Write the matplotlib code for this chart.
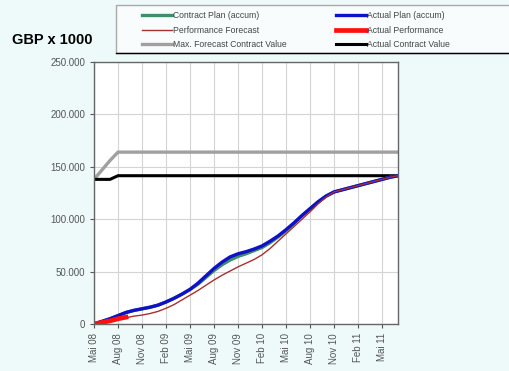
import matplotlib
matplotlib.use("Agg")
import matplotlib.pyplot as plt
from matplotlib.patches import Rectangle
from matplotlib.ticker import FuncFormatter

plt.rcParams['font.family'] = ['Liberation Sans', 'DejaVu Sans']

# monthly values, May 2008 .. Jul 2011
months = list(range(39))
tick_pos = list(range(0, 39, 3))
tick_labels = ["Mai 08", "Aug 08", "Nov 08", "Feb 09", "Mai 09", "Aug 09", "Nov 09",
               "Feb 10", "Mai 10", "Aug 10", "Nov 10", "Feb 11", "Mai 11"]

actual_plan = [0, 2500, 5000, 8000, 11000, 13000, 14500, 16000, 18000, 21000,
               24500, 28500, 33000, 39000, 46000, 53000, 59000, 64000, 67000, 69000,
               71500, 74500, 79000, 84000, 90000, 96500, 103500, 110000, 116500, 122000,
               126000, 128000, 130000, 132000, 134000, 136000, 138000, 140000, 141500]
contract_plan = [0, 2500, 5000, 8000, 11000, 13000, 14500, 16000, 18000, 21000,
                 24500, 28500, 33000, 38000, 44500, 51000, 56500, 61000, 64500, 67000,
                 70000, 73000, 77500, 83000, 89000, 96000, 103500, 110000, 116500, 122000,
                 126000, 128000, 130000, 132000, 134000, 136000, 138000, 140000, 141500]
perf_forecast = [0, 1500, 3000, 4500, 6000, 7500, 8500, 10000, 12000, 15000,
                 18500, 23000, 27500, 32000, 37000, 42000, 46500, 50500, 54500, 58000,
                 61500, 66000, 72000, 79000, 86000, 93000, 100000, 107000, 114500, 121000,
                 126000, 128000, 130000, 132000, 134000, 136000, 138000, 140000, 141500]
actual_perf = [0, 1500, 3000, 5000, 6500]
max_forecast = [138000, 147000, 156000] + [164000] * 36
actual_contract = [138000, 138000, 138000] + [141500] * 36

fig = plt.figure(figsize=(5.1, 3.71), dpi=100, facecolor='#eefafa')
ax = fig.add_axes([94 / 510, 1 - 324 / 371, 304 / 510, 262 / 371])
ax.set_facecolor('white')

ax.plot(months, max_forecast, color='#a0a0a0', lw=2.4, label='Max. Forecast Contract Value')
ax.plot(months, actual_contract, color='black', lw=2.2, label='Actual Contract Value')
ax.plot(months, contract_plan, color='#3f8f6a', lw=2.4, label='Contract Plan (accum)')
ax.plot(months, actual_plan, color='#1010c8', lw=2.4, label='Actual Plan (accum)')
ax.plot(months, perf_forecast, color='#a83030', lw=1.0, label='Performance Forecast')
ax.plot(months[:len(actual_perf)], actual_perf, color='#ff1010', lw=3.4, label='Actual Performance')

ax.set_xlim(0, 38)
ax.set_ylim(0, 250000)
ax.set_yticks(range(0, 250001, 50000))
ax.yaxis.set_major_formatter(FuncFormatter(lambda v, p: '0' if v == 0 else f"{int(v):,}".replace(',', '.')))
ax.set_xticks(tick_pos)
ax.set_xticklabels(tick_labels, rotation=90)
ax.tick_params(labelsize=7, colors='#555555', length=3)
ax.grid(True, color='#d4d4d4', lw=0.8)
ax.set_axisbelow(True)
for s in ax.spines.values():
    s.set_color('#666666')
    s.set_linewidth(1.0)

fig.text(12 / 510, 1 - 40 / 371, 'GBP x 1000', fontsize=10.5, fontweight='bold', va='center')

# legend box
fig.add_artist(Rectangle((116 / 510, 1 - 53 / 371), 394 / 510, 48 / 371, transform=fig.transFigure,
                         facecolor='#f9fcfc', edgecolor='#aaaaaa', lw=1.0))
fig.add_artist(plt.Line2D([116 / 510, 1], [1 - 53 / 371] * 2, color='black', lw=1.0,
                          transform=fig.transFigure))

h, l = ax.get_legend_handles_labels()
order = [2, 4, 0, 3, 5, 1]
leg = fig.legend([h[i] for i in order], [l[i] for i in order], ncol=2, loc='upper left',
                 bbox_to_anchor=(134 / 510, 1 - 3 / 371), frameon=False,
                 fontsize=6.2, handlelength=3.5, handletextpad=0.1, labelspacing=0.68,
                 columnspacing=5.7, labelcolor='#444444')

fig.savefig('out.png', dpi=100, facecolor=fig.get_facecolor())
